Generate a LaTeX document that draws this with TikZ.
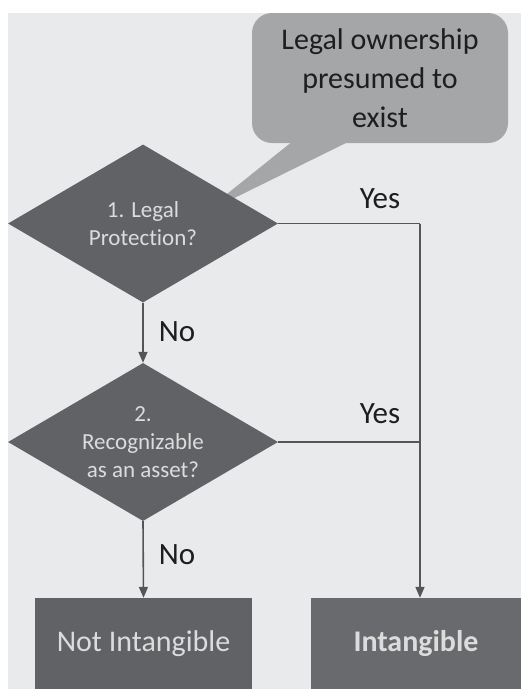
\documentclass[tikz,border=0pt]{standalone}
\usepackage{fontspec}
\setmainfont[Ligatures={NoCommon}]{Carlito}
\usetikzlibrary{shapes.geometric,arrows.meta}
\definecolor{bgc}{HTML}{E9EAEC}
\definecolor{callc}{HTML}{A5A6A8}
\definecolor{darkc}{HTML}{616265}
\definecolor{boxc}{HTML}{696A6D}
\definecolor{lightt}{HTML}{DCDCDC}
\definecolor{linec}{HTML}{555558}
\definecolor{blackt}{HTML}{1E1E1E}
\tikzset{
  decision/.style={diamond, fill=darkc, inner sep=0pt, aspect=1.71,
    minimum width=270pt, minimum height=158pt, text=lightt, align=center,
    font=\fontsize{23}{28}\selectfont},
  outbox/.style={rectangle, fill=darkc, inner sep=0pt, text=lightt,
    font=\fontsize{30}{36}\selectfont},
  flow/.style={draw=linec, line width=1.6pt},
  arr/.style={flow, -{Triangle[width=9pt,length=11pt]}},
  lbl/.style={text=blackt, font=\fontsize{31}{36}\selectfont, inner sep=0pt},
  calltext/.style={text=blackt, align=center, font=\fontsize{30}{39}\selectfont}
}
\begin{document}
\begin{tikzpicture}[x=1pt,y=-1pt]
\useasboundingbox (0,0) rectangle (521,689);
\fill[white] (0,0) rectangle (521,689);
\fill[bgc] (8,13) rectangle (521,689);
% callout
\fill[callc, rounded corners=20pt] (252,13) rectangle (508,143);
\coordinate (tip) at (202,214);
\fill[callc] (293,141) -- (tip) -- (350,141) -- cycle;
\node[calltext] (call) at (380,78) {Legal ownership\\presumed to\\exist};
% decisions
\node[decision] (d1) at (143,223.5) {1. Legal\\Protection?};
\node[decision] (d2) at (143,442) {2.\\Recognizable\\as an asset?};
% outcome boxes
\node[outbox, minimum width=217pt, minimum height=91pt] (ni) at (143.5,643.5) {Not Intangible};
\node[outbox, fill=boxc, minimum width=210pt, minimum height=91pt, font=\fontsize{30}{36}\selectfont\bfseries] (in) at (416,643.5) {Intangible};
% connectors
\coordinate (j1) at (420,223.5);
\coordinate (j2) at (420,442);
\draw[flow] (d1.east) -- (j1);
\draw[arr] (j1) -- (in.north -| j1);
\draw[flow] (d2.east) -- (j2);
\draw[arr] (d1.south) -- (d2.north);
\draw[arr] (d2.south) -- (ni.north);
% labels
\node[lbl] (y1) at (380,199) {Yes};
\node[lbl] (y2) at (380,414) {Yes};
\node[lbl] (n1) at (177,332) {No};
\node[lbl] (n2) at (177,555) {No};
\end{tikzpicture}
\end{document}
